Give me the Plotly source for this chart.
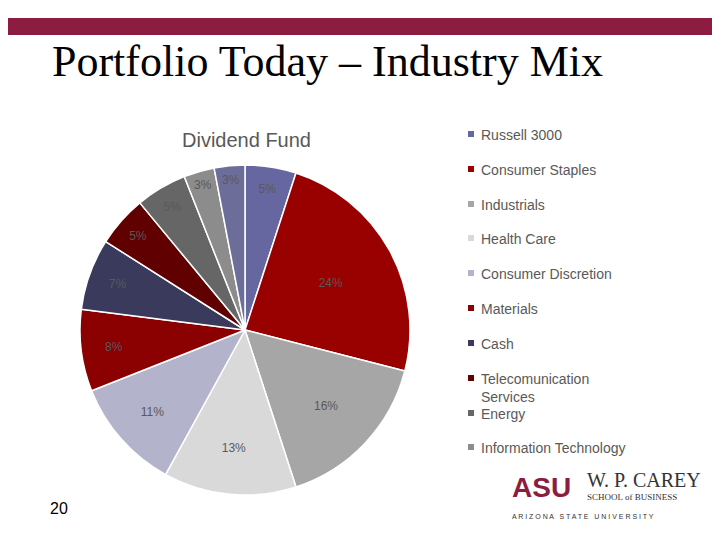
import plotly.graph_objects as go

labels = ["Russell 3000", "Consumer Staples", "Industrials", "Health Care",
          "Consumer Discretion", "Materials", "Cash", "Telecomunication Services",
          "Energy", "Information Technology", "Other"]
values = [5, 24, 16, 13, 11, 8, 7, 5, 5, 3, 3]
colors = ["#6666a0", "#990000", "#a6a6a6", "#d9d9d9", "#b3b3cc", "#8b0000",
          "#3a3a5c", "#600000", "#666666", "#8c8c8c", "#6d6d99"]
legend_labels = ["Russell 3000", "Consumer Staples", "Industrials", "Health Care",
                 "Consumer Discretion", "Materials", "Cash",
                 "Telecomunication<br>Services", "Energy", "Information Technology"]
legend_y = [134, 169, 204, 238, 273, 308, 343, 378, 413, 447]

W, H = 720, 540
O = 8  # page offset compensation
def px(x): return (x - O) / W
def py(y): return 1 - (y - O) / H

fig = go.Figure(go.Pie(
    labels=labels, values=values, sort=False, direction="clockwise", rotation=0,
    marker=dict(colors=colors, line=dict(color="white", width=1.5)),
    texttemplate="%{percent:.0%}", textposition="inside",
    insidetextorientation="horizontal",
    textfont=dict(family="Liberation Sans", size=12, color="#595959"),
    domain=dict(x=[px(80), px(410)], y=[py(495), py(165)]),
    showlegend=False, hoverinfo="label+percent"))

shapes = [dict(type="rect", xref="paper", yref="paper", x0=0, x1=1,
               y0=py(35), y1=min(1, py(18)), fillcolor="#8c1d40", line=dict(width=0))]
ann = [
    dict(text="Portfolio Today – Industry Mix", x=px(50), y=py(62), xanchor="left",
         yanchor="middle", font=dict(family="Liberation Serif", size=44, color="black")),
    dict(text="Dividend Fund", x=px(246), y=py(140), xanchor="center", yanchor="middle",
         font=dict(family="Liberation Sans", size=20, color="#595959")),
    dict(text="20", x=px(48), y=py(508), xanchor="left", yanchor="middle",
         font=dict(family="Liberation Sans", size=16, color="black")),
    dict(text="<b>ASU</b>", x=px(510), y=py(487), xanchor="left", yanchor="middle",
         font=dict(family="Liberation Sans", size=28, color="#8c1d40")),
    dict(text="W. P. CAREY", x=px(585), y=py(480), xanchor="left", yanchor="middle",
         font=dict(family="Liberation Serif", size=20, color="#333333")),
    dict(text="SCHOOL of BUSINESS", x=px(585), y=py(497), xanchor="left", yanchor="middle",
         font=dict(family="Liberation Serif", size=9, color="#333333")),
    dict(text="A R I Z O N A   S T A T E   U N I V E R S I T Y", x=px(510), y=py(516),
         xanchor="left", yanchor="middle",
         font=dict(family="Liberation Sans", size=7, color="#333333")),
]
for lab, col, y in zip(legend_labels, colors, legend_y):
    shapes.append(dict(type="rect", xref="paper", yref="paper",
                       x0=px(468), x1=px(474), y0=py(y + 3), y1=py(y - 3),
                       fillcolor=col, line=dict(width=0)))
    ann.append(dict(text=lab, x=px(479), y=py(y - 9), xanchor="left", yanchor="top",
                    align="left",
                    font=dict(family="Liberation Sans", size=14, color="#595959")))
for a in ann:
    a.update(xref="paper", yref="paper", showarrow=False)

fig.update_layout(width=W, height=H, margin=dict(l=0, r=0, t=0, b=0),
                  paper_bgcolor="white", plot_bgcolor="white",
                  shapes=shapes, annotations=ann)
fig.write_html("out.html")
